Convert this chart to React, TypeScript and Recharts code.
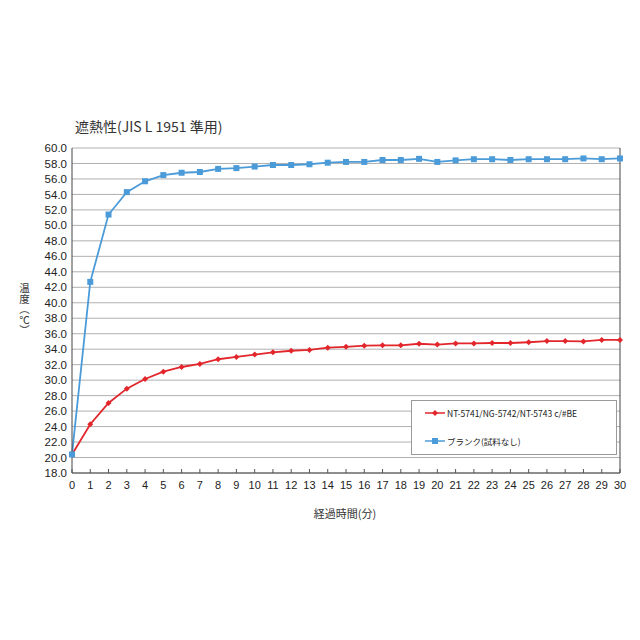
import React from 'react';
import {
  LineChart,
  Line,
  XAxis,
  YAxis,
  CartesianGrid,
  ReferenceLine,
} from 'recharts';

// elapsed time (minutes)
const minutes = [
  0, 1, 2, 3, 4, 5, 6, 7, 8, 9, 10, 11, 12, 13, 14, 15,
  16, 17, 18, 19, 20, 21, 22, 23, 24, 25, 26, 27, 28, 29, 30,
];

// NT-5741/NG-5742/NT-5743 c/#BE
const sampleTemps = [
  20.4, 24.3, 27.05, 28.9, 30.15, 31.1, 31.7, 32.1, 32.7, 33.0, 33.3,
  33.6, 33.8, 33.9, 34.2, 34.3, 34.45, 34.5, 34.5, 34.7, 34.6, 34.75,
  34.75, 34.8, 34.8, 34.9, 35.05, 35.05, 35.0, 35.2, 35.2,
];

// ブランク(試料なし)
const blankTemps = [
  20.4, 42.7, 51.4, 54.3, 55.7, 56.5, 56.8, 56.9, 57.3, 57.4, 57.6,
  57.8, 57.8, 57.9, 58.1, 58.2, 58.2, 58.45, 58.45, 58.6, 58.2, 58.4,
  58.55, 58.55, 58.45, 58.55, 58.55, 58.55, 58.65, 58.55, 58.65,
];

const yTicks = [
  18, 20, 22, 24, 26, 28, 30, 32, 34, 36, 38, 40, 42, 44, 46, 48, 50,
  52, 54, 56, 58, 60,
];

const SAMPLE_LABEL = 'NT-5741/NG-5742/NT-5743 c/#BE';
const BLANK_LABEL = 'ブランク(試料なし)';

const RED = '#e2262b';
const BLUE = '#4b9bd9';
const NUM_FONT = '"Liberation Sans", Arial, sans-serif';
const JP_FONT = '"Noto Sans CJK JP", "Noto Sans", sans-serif';

const data = minutes.map((t, i) => ({
  t,
  sample: sampleTemps[i],
  blank: blankTemps[i],
}));

function SquareDot(props: any) {
  const { cx, cy } = props;
  if (cx == null || cy == null) return null;
  return <rect x={cx - 3} y={cy - 3} width={6} height={6} fill={BLUE} />;
}

function DiamondDot(props: any) {
  const { cx, cy } = props;
  if (cx == null || cy == null) return null;
  return (
    <path
      d={`M${cx},${cy - 3} L${cx + 3},${cy} L${cx},${cy + 3} L${cx - 3},${cy} Z`}
      fill={RED}
    />
  );
}

/** x tick with an inward tick mark */
function XTick(props: any) {
  const { x, y, payload } = props;
  return (
    <g>
      <line x1={x} x2={x} y1={y} y2={y - 4} stroke="#555" />
      <text
        x={x}
        y={y + 16}
        textAnchor="middle"
        fontSize={11}
        fontFamily={NUM_FONT}
        fill="#222"
      >
        {payload.value}
      </text>
    </g>
  );
}

function LegendBox() {
  const row = (color: string, marker: React.ReactNode, label: string) => (
    <div style={{ display: 'flex', alignItems: 'center', height: 14 }}>
      <svg width={20} height={10} style={{ marginRight: 2 }}>
        <line x1={0} x2={20} y1={5} y2={5} stroke={color} strokeWidth={1.5} />
        {marker}
      </svg>
      <span>{label}</span>
    </div>
  );
  return (
    <div
      style={{
        position: 'absolute',
        left: 411,
        top: 400,
        width: 206,
        height: 55,
        boxSizing: 'border-box',
        border: '1px solid #9a9a9a',
        background: '#fff',
        padding: '5px 0 0 13px',
        fontFamily: JP_FONT,
        fontSize: 8.5,
        color: '#222',
        lineHeight: '14px',
      }}
    >
      {row(RED, <path d="M10,2 L13,5 L10,8 L7,5 Z" fill={RED} />, SAMPLE_LABEL)}
      <div style={{ height: 14 }} />
      {row(BLUE, <rect x={7} y={2} width={6} height={6} fill={BLUE} />, BLANK_LABEL)}
    </div>
  );
}

export default function App() {
  return (
    <div
      style={{
        position: 'absolute',
        left: 0,
        top: 0,
        width: 640,
        height: 640,
        background: '#fff',
      }}
    >
      <div
        style={{
          position: 'absolute',
          left: 75,
          top: 116,
          fontFamily: JP_FONT,
          fontSize: 14,
          color: '#333',
          whiteSpace: 'nowrap',
        }}
      >
        遮熱性(JIS L 1951 準用)
      </div>
      {/* vertical y-axis title */}
      <div
        style={{
          position: 'absolute',
          left: 17,
          top: 283,
          width: 14,
          height: 60,
          writingMode: 'vertical-rl',
          fontFamily: JP_FONT,
          fontSize: 10.5,
          color: '#333',
          lineHeight: '14px',
          whiteSpace: 'nowrap',
        }}
      >
        温度（℃）
      </div>
      <div
        style={{
          position: 'absolute',
          left: 0,
          width: 690,
          top: 505,
          textAlign: 'center',
          fontFamily: JP_FONT,
          fontSize: 11,
          color: '#333',
        }}
      >
        経過時間(分)
      </div>

      <LineChart
        width={640}
        height={640}
        data={data}
        margin={{ top: 148, right: 20, bottom: 137, left: 0 }}
        style={{ position: 'absolute', left: 0, top: 0 }}
      >
        <CartesianGrid vertical={false} stroke="#b0b0b0" />
        <XAxis
          dataKey="t"
          type="number"
          domain={[0, 30]}
          ticks={minutes}
          interval={0}
          height={30}
          tickSize={0}
          tickMargin={0}
          tickLine={false}
          axisLine={{ stroke: '#444' }}
          tick={<XTick />}
        />
        <YAxis
          type="number"
          domain={[18, 60]}
          ticks={yTicks}
          interval={0}
          width={72}
          tickLine={false}
          tickSize={0}
          tickMargin={5}
          axisLine={{ stroke: '#444' }}
          tickFormatter={(v: number) => v.toFixed(1)}
          tick={{ fontSize: 11.5, fill: '#222', fontFamily: NUM_FONT }}
        />
        <ReferenceLine x={30} stroke="#444" />
        <Line
          dataKey="sample"
          name={SAMPLE_LABEL}
          stroke={RED}
          strokeWidth={1.8}
          dot={<DiamondDot />}
          isAnimationActive={false}
        />
        <Line
          dataKey="blank"
          name={BLANK_LABEL}
          stroke={BLUE}
          strokeWidth={1.8}
          dot={<SquareDot />}
          isAnimationActive={false}
        />
      </LineChart>
      <LegendBox />
    </div>
  );
}
